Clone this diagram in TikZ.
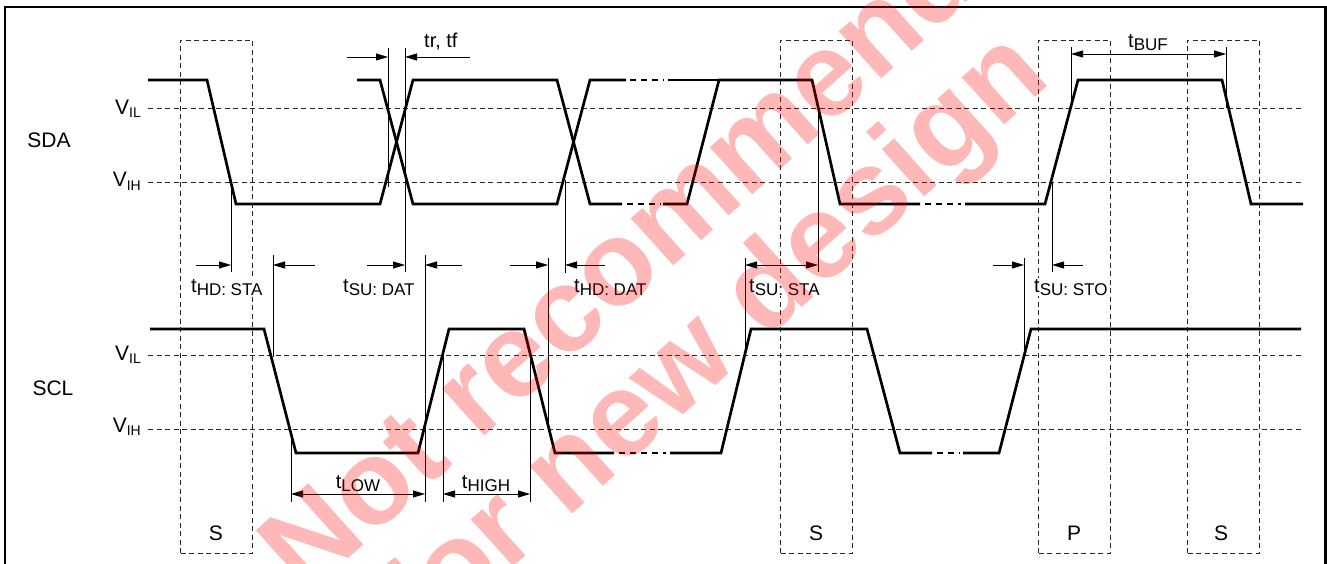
\documentclass[tikz,border=0pt]{standalone}
\usepackage{fontspec}
\setmainfont{Liberation Sans}
\usetikzlibrary{arrows.meta}
\newcommand{\tlbl}[1]{t\raisebox{-3pt}{\fontsize{17}{17}\selectfont #1}}
\newcommand{\vlbl}[1]{{\fontsize{21}{24}\selectfont V}\raisebox{-3pt}{\fontsize{14}{14}\selectfont #1}}

\begin{document}
\begin{tikzpicture}[x=1pt, y=1pt, font=\fontsize{20}{24}\selectfont,
    sig/.style={line width=2.7pt},
    brk/.style={line width=2.7pt, dash pattern=on 6pt off 5pt},
    lvl/.style={line width=0.9pt, black!85, dash pattern=on 5pt off 3.5pt},
    tick/.style={line width=0.9pt},
    dim/.style={line width=0.9pt, -{Triangle[length=12pt,width=7pt]}},
    dimb/.style={line width=0.9pt, {Triangle[length=12pt,width=7pt]}-{Triangle[length=12pt,width=7pt]}},
    lbl/.style={anchor=base west, fill=white, inner sep=1pt},
    mark text/.style={anchor=base, rotate=42, text=red, text opacity=0.28,
                      font=\fontsize{120}{120}\selectfont\bfseries}]
            \tikzstyle{every node}+=[inner sep=0pt]
            \useasboundingbox (0,0) rectangle (1327,-564);
            \draw [line width=2.5pt] (5,-600) -- (5,-7) -- (1325.5,-7) -- (1325.5,-600);
            % levels
            \draw [lvl] (148,-108) -- (1303,-108);
            \draw [lvl] (148,-182) -- (1303,-182);
            \draw [lvl] (148,-355) -- (1303,-355);
            \draw [lvl] (148,-429) -- (1303,-429);
            % start / stop windows
            \draw [lvl] (180,-553) rectangle (252,-40);
            \draw [lvl] (780,-553) rectangle (852,-40);
            \draw [lvl] (1038,-553) rectangle (1110,-40);
            \draw [lvl] (1187,-553) rectangle (1259,-40);
            \node [font=\fontsize{21}{24}\selectfont] (s1) at (216,-533) {S};
            \node [font=\fontsize{21}{24}\selectfont] (s2) at (816,-533) {S};
            \node [font=\fontsize{21}{24}\selectfont] (p1) at (1074,-533) {P};
            \node [font=\fontsize{21}{24}\selectfont] (s3) at (1221,-533) {S};
            % names
            \node [font=\fontsize{21}{24}\selectfont] (sda) at (49,-140) {SDA};
            \node [font=\fontsize{21}{24}\selectfont] (scl) at (53,-388) {SCL};
            \node [anchor=base east] (sdavil) at (141,-115) {\vlbl{IL}};
            \node [anchor=base east] (sdavih) at (141,-187) {\vlbl{IH}};
            \node [anchor=base east] (sclvil) at (141,-360) {\vlbl{IL}};
            \node [anchor=base east] (sclvih) at (141,-432) {\vlbl{IH}};
            % SDA
            \draw [sig] (148,-80) -- (207,-80) -- (236,-204) -- (380,-204) -- (413,-80) -- (557,-80) -- (590,-204) -- (622,-204);
            \draw [brk] (627,-204) -- (661,-204);
            \draw [sig] (663,-204) -- (687,-204) -- (719,-80) -- (812,-80) -- (840,-204) -- (920,-204);
            \draw [brk] (925,-204) -- (961,-204);
            \draw [sig] (965,-204) -- (1045,-204) -- (1078,-80) -- (1222,-80) -- (1251,-204) -- (1303,-204);
            \draw [sig] (357,-80) -- (380,-80) -- (413,-204) -- (557,-204) -- (590,-80) -- (626,-80);
            \draw [brk] (630,-80) -- (664,-80);
            \draw [sig] (668,-80) -- (719,-80);
            % SCL
            \draw [sig] (150,-329) -- (264,-329) -- (296,-453) -- (418,-453) -- (449,-329) -- (524,-329) -- (555,-453) -- (614,-453);
            \draw [brk] (619,-453) -- (666,-453);
            \draw [sig] (670,-453) -- (721,-453) -- (751,-329) -- (867,-329) -- (900,-453) -- (932,-453);
            \draw [brk] (937,-453) -- (960,-453);
            \draw [sig] (963,-453) -- (999,-453) -- (1031,-329) -- (1301,-329);
            % timing marks
            \draw [tick] (231,-185) -- (231,-272);
            \draw [tick] (273,-255) -- (273,-357);
            \draw [tick] (388,-48) -- (388,-187);
            \draw [tick] (405,-48) -- (405,-272);
            \draw [tick] (425,-255) -- (425,-502);
            \draw [tick] (548,-258) -- (548,-432);
            \draw [tick] (565,-180) -- (565,-273);
            \draw [tick] (745,-258) -- (745,-355);
            \draw [tick] (818,-108) -- (818,-272);
            \draw [tick] (1024,-258) -- (1024,-355);
            \draw [tick] (1052,-182) -- (1052,-272);
            \draw [tick] (1071,-47) -- (1071,-108);
            \draw [tick] (1226,-47) -- (1226,-108);
            \draw [tick] (291,-432) -- (291,-502);
            \draw [tick] (443,-355) -- (443,-502);
            \draw [tick] (530,-355) -- (530,-502);
            \draw [dim] (196,-265) -- (231,-265);
            \draw [dim] (315,-265) -- (273,-265);
            \draw [dim] (347,-57) -- (388,-57);
            \draw [dim] (470,-57) -- (405,-57);
            \draw [dim] (367,-265) -- (405,-265);
            \draw [dim] (462,-265) -- (425,-265);
            \draw [dim] (510,-265) -- (548,-265);
            \draw [dim] (605,-265) -- (565,-265);
            \draw [dimb] (745,-265) -- (818,-265);
            \draw [dim] (993,-265) -- (1024,-265);
            \draw [dim] (1083,-265) -- (1052,-265);
            \draw [dimb] (1071,-54) -- (1226,-54);
            \draw [dimb] (291,-494) -- (425,-494);
            \draw [dimb] (443,-494) -- (530,-494);
            \node [lbl] (hdsta) at (190,-292) {\tlbl{HD: STA}};
            \node [lbl] (sudat) at (342,-292) {\tlbl{SU: DAT}};
            \node [lbl] (hddat) at (573,-292) {\tlbl{HD: DAT}};
            \node [lbl] (susta) at (748,-292) {\tlbl{SU: STA}};
            \node [lbl] (susto) at (1033,-292) {\tlbl{SU: STO}};
            \node [anchor=base west] (trtf) at (424,-48) {tr, tf};
            \node [anchor=base] (tbuf) at (1148,-48) {\tlbl{BUF}};
            \node [anchor=base] (tlow) at (358,-488) {\tlbl{LOW}};
            \node [anchor=base] (thigh) at (486,-488) {\tlbl{HIGH}};
            % watermark
            \node [mark text] (mark1) at (697,-245) {Not recommended};
            \node [mark text] (mark2) at (738,-365) {for new design};
\end{tikzpicture}
\end{document}
